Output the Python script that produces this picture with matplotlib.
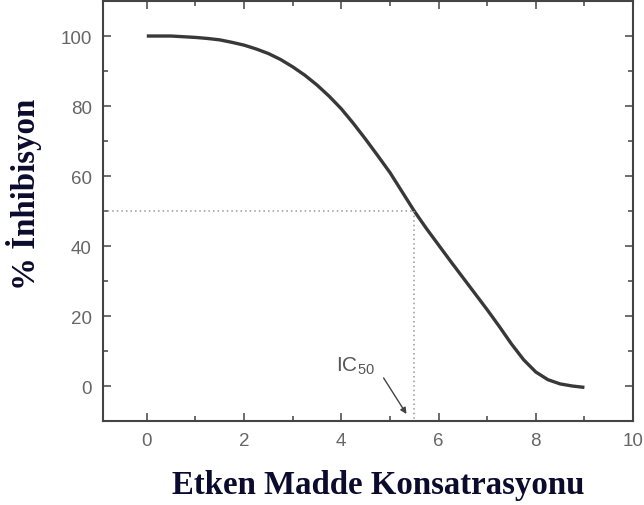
import matplotlib
matplotlib.use("Agg")
import matplotlib.pyplot as plt

# data
conc = [0, 0.25, 0.5, 0.75, 1, 1.25, 1.5, 1.75, 2, 2.25, 2.5, 2.75, 3, 3.25, 3.5,
        3.75, 4, 4.25, 4.5, 4.75, 5, 5.25, 5.5, 5.75, 6, 6.25, 6.5, 6.75, 7, 7.25,
        7.5, 7.75, 8, 8.25, 8.5, 8.75, 9]
inhib = [100, 100, 100, 99.8, 99.6, 99.3, 98.9, 98.2, 97.4, 96.3, 95, 93.3, 91.2,
         88.8, 86, 82.8, 79.2, 75, 70.5, 65.8, 61, 55.5, 50, 45, 40.3, 35.6, 31,
         26.4, 21.8, 17, 12, 7.5, 4, 1.8, 0.6, 0, -0.4]
ic50_x = 5.5
ic50_y = 50
xticks = [0, 2, 4, 6, 8, 10]
yticks = [0, 20, 40, 60, 80, 100]

plt.rcParams['mathtext.fontset'] = 'custom'
plt.rcParams['mathtext.rm'] = 'Liberation Sans'

fig = plt.figure(figsize=(6.44, 5.06), dpi=100)
ax = fig.add_axes([0.16, 0.166, 0.823, 0.830])

ax.set_xlim(-0.9, 10)
ax.set_ylim(-10, 110)

ax.plot(conc, inhib, color='#383838', lw=2.4, solid_capstyle='butt',
        solid_joinstyle='round')
ax.plot([-0.9, ic50_x], [ic50_y, ic50_y], color='#999999', lw=1.1, ls=(0, (1, 2)))
ax.plot([ic50_x, ic50_x], [ic50_y, -10], color='#999999', lw=1.1, ls=(0, (1, 2)))

ax.text(3.89, 4.4, r'IC$_{\mathrm{50}}$', fontsize=15, color='#555555',
        family='Liberation Sans')
ax.annotate('', xy=(5.34, -8), xytext=(4.87, 2.3),
            arrowprops=dict(arrowstyle='-|>', color='#444444', lw=1.0,
                            mutation_scale=9, shrinkA=0, shrinkB=0))

ax.set_xticks(xticks)
ax.set_yticks(yticks)
ax.set_xticks([1, 3, 5, 7, 9], minor=True)
ax.set_yticks([-10, 10, 30, 50, 70, 90], minor=True)
ax.tick_params(which='both', direction='in', top=True, right=True,
               color='#444444', width=1.1, labelsize=13.5, labelcolor='#666666', pad=8)
ax.tick_params(which='major', length=6)
ax.tick_params(which='minor', length=3.5)
for lab in ax.get_xticklabels() + ax.get_yticklabels():
    lab.set_family('Liberation Sans')
for s in ax.spines.values():
    s.set_color('#444444')
    s.set_linewidth(1.5)

ax.set_xlabel('Etken Madde Konsatrasyonu', family='Liberation Serif', fontweight='bold',
              fontsize=23.7, color='#0b0b2e')
ax.xaxis.set_label_coords(0.519, -0.115)
ax.set_ylabel('% İnhibisyon', family='Liberation Serif', fontweight='bold',
              fontsize=23.7, color='#0b0b2e')
ax.yaxis.set_label_coords(-0.115, 0.543)

fig.savefig('out.png', dpi=100)
